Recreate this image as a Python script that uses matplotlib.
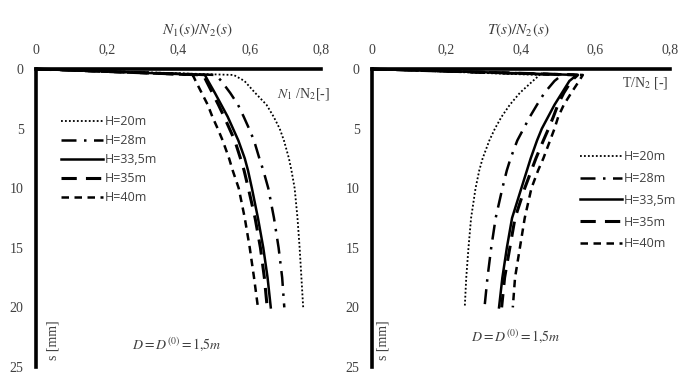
import matplotlib
matplotlib.use("Agg")
import matplotlib.pyplot as plt

plt.rcParams['mathtext.fontset'] = 'stix'

# settlement s [mm]
s = [0, 0.5, 1, 2, 3, 4, 5, 6, 7.5, 8.5, 10, 12.5, 15, 17.5, 20]

labels = ["H=20m", "H=28m", "H=33,5m", "H=35m", "H=40m"]

# N1/N2 ratio
n_h20 = [0, 0.555, 0.585, 0.615, 0.647, 0.667, 0.684, 0.696, 0.710, 0.717, 0.726, 0.734, 0.740, 0.745, 0.750]
n_h28 = [0, 0.505, 0.520, 0.545, 0.567, 0.583, 0.598, 0.612, 0.627, 0.638, 0.652, 0.668, 0.681, 0.691, 0.697]
n_h335 = [0, 0.474, 0.483, 0.502, 0.520, 0.538, 0.553, 0.568, 0.586, 0.595, 0.606, 0.623, 0.638, 0.650, 0.659]
n_h35 = [0, 0.470, 0.478, 0.495, 0.512, 0.528, 0.543, 0.558, 0.574, 0.584, 0.596, 0.615, 0.630, 0.641, 0.649]
n_h40 = [0, 0.440, 0.448, 0.465, 0.482, 0.495, 0.510, 0.524, 0.542, 0.552, 0.569, 0.586, 0.600, 0.612, 0.623]

# T/N2 ratio
t_h20 = [0, 0.450, 0.432, 0.397, 0.370, 0.348, 0.330, 0.315, 0.297, 0.288, 0.278, 0.266, 0.259, 0.253, 0.249]
t_h28 = [0, 0.510, 0.490, 0.463, 0.443, 0.424, 0.407, 0.390, 0.372, 0.362, 0.350, 0.332, 0.320, 0.310, 0.302]
t_h335 = [0, 0.550, 0.530, 0.510, 0.490, 0.473, 0.456, 0.443, 0.426, 0.416, 0.401, 0.376, 0.362, 0.350, 0.341]
t_h35 = [0, 0.552, 0.535, 0.515, 0.499, 0.487, 0.474, 0.460, 0.440, 0.428, 0.410, 0.384, 0.370, 0.356, 0.348]
t_h40 = [0, 0.566, 0.556, 0.535, 0.515, 0.500, 0.490, 0.478, 0.460, 0.446, 0.428, 0.410, 0.397, 0.384, 0.378]

xticks = [0, 0.2, 0.4, 0.6, 0.8]
xticklabels = ["0", "0,2", "0,4", "0,6", "0,8"]
yticks = [0, 5, 10, 15, 20, 25]

styles = [
    dict(ls=(0, (1, 1.2)), lw=1.3),
    dict(ls=(0, (6, 3, 1, 3)), lw=1.8),
    dict(ls='-', lw=1.8),
    dict(ls=(0, (5, 3)), lw=2.2),
    dict(ls=(0, (3, 2.2)), lw=1.8),
]

grey = '#404040'
serif = ['Liberation Serif', 'DejaVu Serif']

fig = plt.figure(figsize=(6.95, 3.91), dpi=100)


def make_axes(rect):
    ax = fig.add_axes(rect)
    ax.set_xlim(0, 0.8)
    ax.set_ylim(25, 0)
    for side in ['right', 'bottom']:
        ax.spines[side].set_visible(False)
    for side in ['top', 'left']:
        ax.spines[side].set_linewidth(2.6)
        ax.spines[side].set_color('black')
    ax.xaxis.tick_top()
    ax.set_xticks(xticks)
    ax.set_xticklabels(xticklabels, family=serif, fontsize=10, color=grey)
    ax.set_yticks(yticks)
    ax.set_yticklabels([str(v) for v in yticks], family=serif, fontsize=10, color=grey)
    ax.tick_params(length=0)
    ax.tick_params(axis='x', pad=9)
    ax.tick_params(axis='y', pad=9)
    ax.patch.set_visible(False)
    return ax


ax1 = make_axes([36 / 695, 1 - 367 / 391, 285 / 695, 298 / 391])
ax2 = make_axes([372 / 695, 1 - 367 / 391, 298 / 695, 298 / 391])

for data, lab, st in zip([n_h20, n_h28, n_h335, n_h35, n_h40], labels, styles):
    ax1.plot(data, s, color='black', label=lab, clip_on=False, **st)
for data, lab, st in zip([t_h20, t_h28, t_h335, t_h35, t_h40], labels, styles):
    ax2.plot(data, s, color='black', label=lab, clip_on=False, **st)

leg1 = ax1.legend(loc='upper left', bbox_to_anchor=(50 / 695, 1 - 104 / 391),
                  bbox_transform=fig.transFigure, frameon=False,
                  prop={'family': ['Open Sans', 'DejaVu Sans'], 'size': 9},
                  handlelength=3.3, handletextpad=0.2, labelspacing=0.48)
leg2 = ax2.legend(loc='upper left', bbox_to_anchor=(569 / 695, 1 - 139 / 391),
                  bbox_transform=fig.transFigure, frameon=False,
                  prop={'family': ['Open Sans', 'DejaVu Sans'], 'size': 9},
                  handlelength=3.3, handletextpad=0.2, labelspacing=0.7)
for leg in (leg1, leg2):
    for t in leg.get_texts():
        t.set_color(grey)

# titles
fig.text(197 / 695, 1 - 30 / 391, r'$N_1(s)/N_2(s)$', ha='center', va='center',
         fontsize=11, color=grey)
fig.text(518 / 695, 1 - 30 / 391, r'$T(s)/N_2(s)$', ha='center', va='center',
         fontsize=11, color=grey)

# axis side labels
fig.text(277 / 695, 1 - 94 / 391, r'$N_1$' + ' /N$_2$[-]', ha='left', va='center',
         fontsize=10, color=grey, family=serif)
fig.text(622 / 695, 1 - 83 / 391, 'T/N$_2$ [-]', ha='left', va='center',
         fontsize=10, color=grey, family=serif)
fig.text(53 / 695, 1 - 340 / 391, 's [mm]', rotation=90, ha='center', va='center',
         fontsize=10, color=grey, family=serif)
fig.text(383 / 695, 1 - 340 / 391, 's [mm]', rotation=90, ha='center', va='center',
         fontsize=10, color=grey, family=serif)

fig.text(177 / 695, 1 - 344 / 391, r'$D=D^{(0)}=1{,}5m$', ha='center', va='center',
         fontsize=10, color=grey)
fig.text(516 / 695, 1 - 336 / 391, r'$D=D^{(0)}=1{,}5m$', ha='center', va='center',
         fontsize=10, color=grey)

fig.savefig('out.png', dpi=100)
